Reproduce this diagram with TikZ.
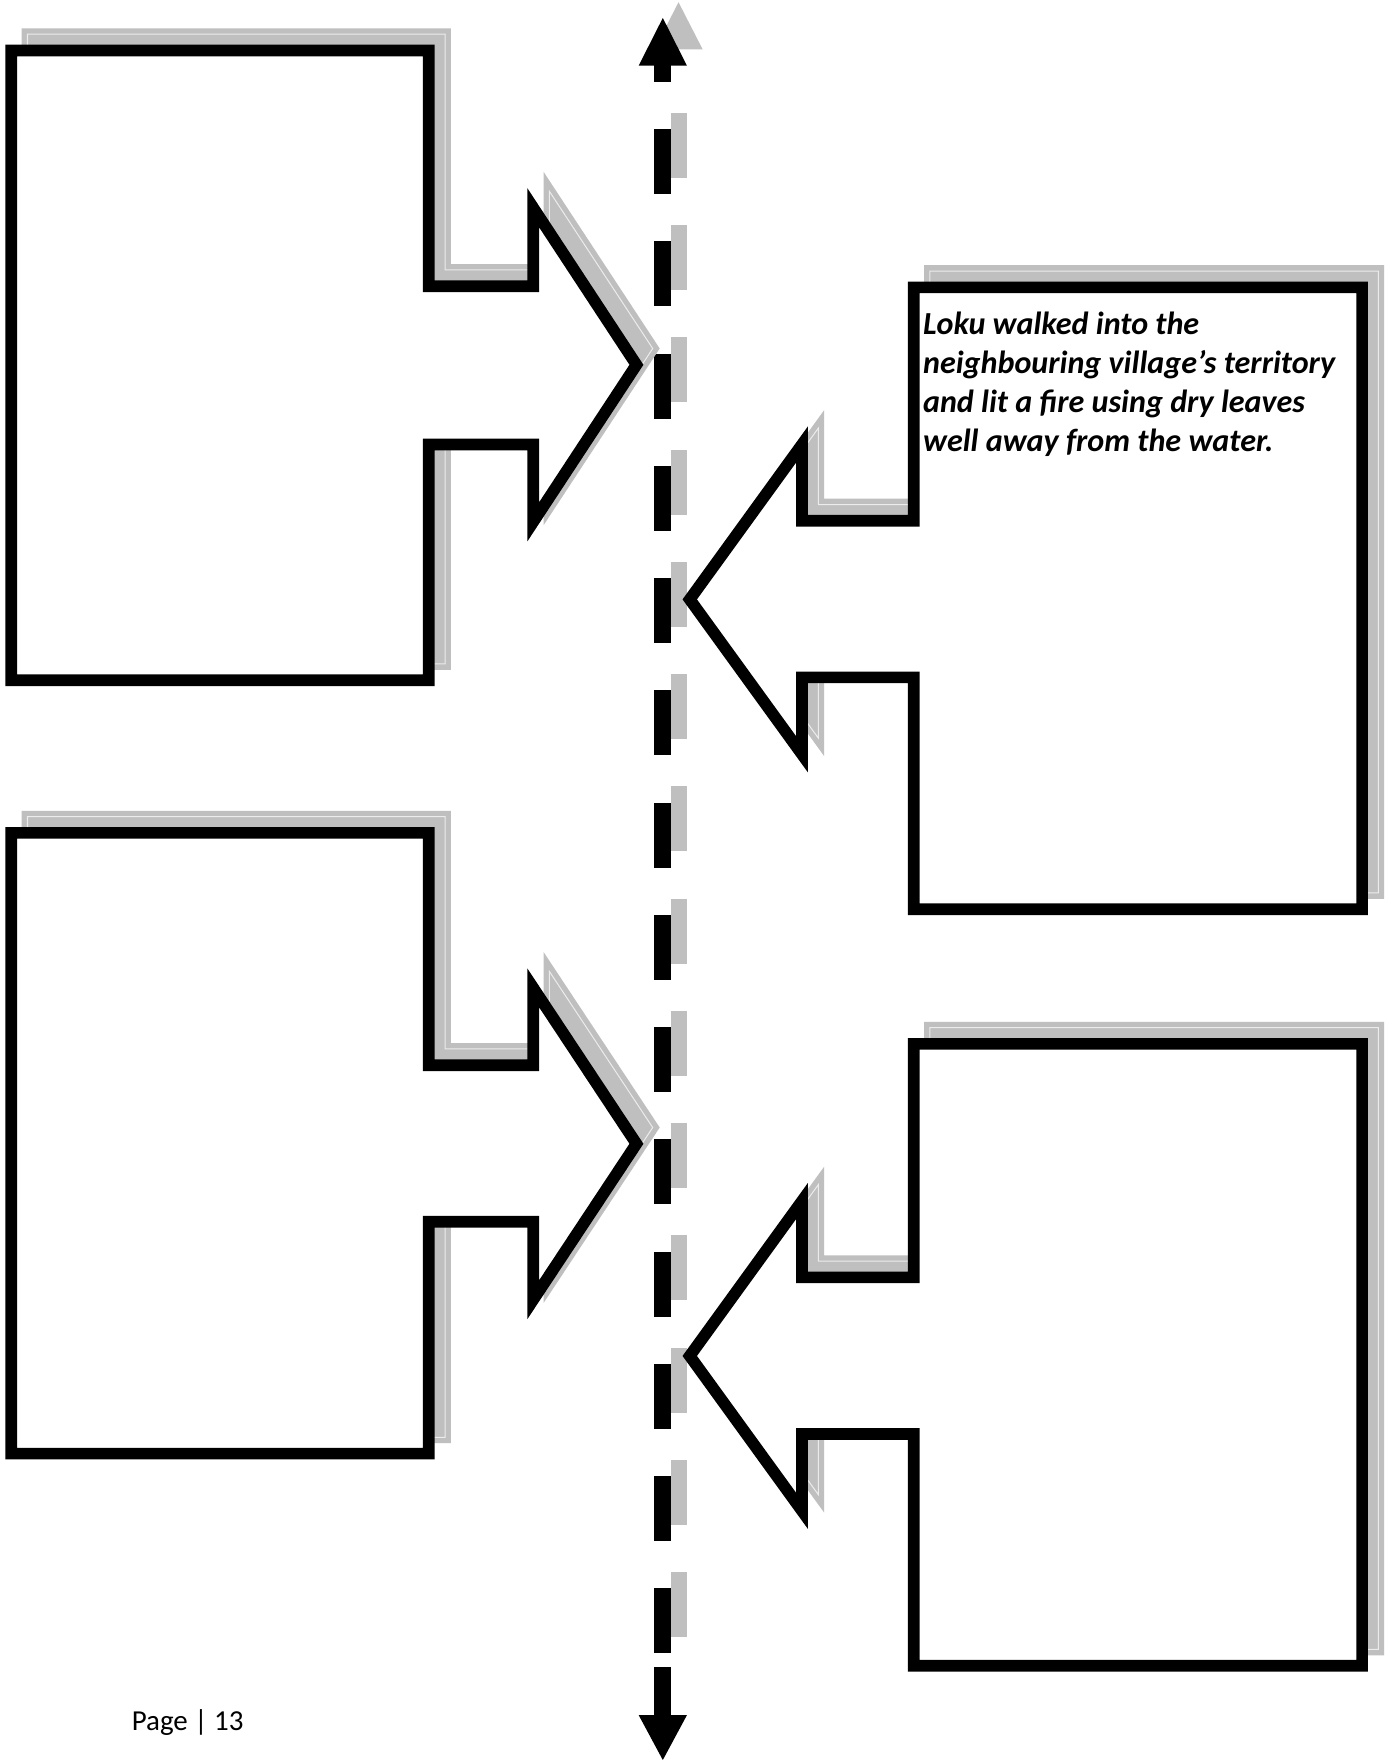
\documentclass[tikz,border=0pt]{standalone}
\usepackage{fontspec}
\setmainfont{Carlito}
\definecolor{shd}{RGB}{191,191,191}
\definecolor{shdline}{RGB}{236,236,236}
\tikzset{
  callout/.style={draw=black, fill=white, line width=5.2pt, line join=miter, miter limit=10},
  shadowfill/.style={draw=shd, fill=shd, line width=5.2pt, line join=miter, miter limit=10},
  shadowline/.style={draw=shdline, line width=0.45pt, line join=miter},
  dashblack/.style={fill=black},
  dashgray/.style={fill=shd},
  storytext/.style={anchor=base west, inner sep=0pt, font=\fontsize{14.3}{17}\selectfont\bfseries\itshape},
  pagetext/.style={anchor=base west, inner sep=0pt, font=\fontsize{12.9}{15}\selectfont},
  shadowshift/.style={shift={(14.5,-14.5)}}
}
\def\pathUL{(10,45) -- (382,45) -- (382,255) -- (475,255) -- (475,185) -- (567,325) -- (475,465) -- (475,396) -- (382,396) -- (382,606) -- (10,606) -- cycle}
\def\pathLL{(10,742) -- (382,742) -- (382,949) -- (475,949) -- (475,880) -- (567,1019) -- (475,1158) -- (475,1088.5) -- (382,1088.5) -- (382,1295) -- (10,1295) -- cycle}
\def\pathUR{(814,256) -- (1213.5,256) -- (1213.5,810) -- (814,810) -- (814,603.5) -- (714.5,603.5) -- (714.5,672) -- (614.5,534) -- (714.5,396) -- (714.5,464) -- (814,464) -- cycle}
\def\pathLR{(814,930) -- (1213.5,930) -- (1213.5,1484) -- (814,1484) -- (814,1277.5) -- (714.5,1277.5) -- (714.5,1346) -- (614.5,1208) -- (714.5,1070) -- (714.5,1138) -- (814,1138) -- cycle}
\begin{document}
\begin{tikzpicture}[x=0.5pt,y=-0.5pt]
  \fill[white] (0,0) rectangle (1240,1568);
  \useasboundingbox (0,0) rectangle (1240,1568);

  % dashed timeline: shadow then black
  \fill[dashgray] (604.5,2) -- (626,44) -- (583,44) -- cycle;
  \foreach \k in {0,...,13}{
    \fill[dashgray] (598,{100.5+100*\k}) rectangle (612,{158.5+100*\k});
  }
  \fill[dashblack] (590.5,16) -- (612,58.5) -- (569,58.5) -- cycle;
  \fill[dashblack] (583,58) rectangle (598,73);
  \foreach \k in {0,...,13}{
    \fill[dashblack] (583,{115+100*\k}) rectangle (598,{173+100*\k});
  }
  \fill[dashblack] (583,1485) rectangle (598,1528.5);
  \fill[dashblack] (569,1528) -- (612,1528) -- (590.5,1568) -- cycle;

  % shadows of the callouts
  \begin{scope}[shadowshift]
    \draw[shadowfill] \pathUL;  \draw[shadowline] \pathUL;
    \draw[shadowfill] \pathLL;  \draw[shadowline] \pathLL;
    \draw[shadowfill] \pathUR;  \draw[shadowline] \pathUR;
    \draw[shadowfill] \pathLR;  \draw[shadowline] \pathLR;
  \end{scope}

  % callouts
  \draw[callout] \pathUL;
  \draw[callout] \pathLL;
  \draw[callout] \pathUR;
  \draw[callout] \pathLR;

  % text in the upper right callout
  \node[storytext] (l1) at (822,298) {Loku walked into the};
  \node[storytext] (l2) at (822,332.5) {neighbouring village’s territory};
  \node[storytext] (l3) at (822,367.5) {and lit a fire using dry leaves};
  \node[storytext] (l4) at (822,402.5) {well away from the water.};

  % footer
  \node[pagetext] (page) at (117,1542) {Page | 13};
\end{tikzpicture}
\end{document}
